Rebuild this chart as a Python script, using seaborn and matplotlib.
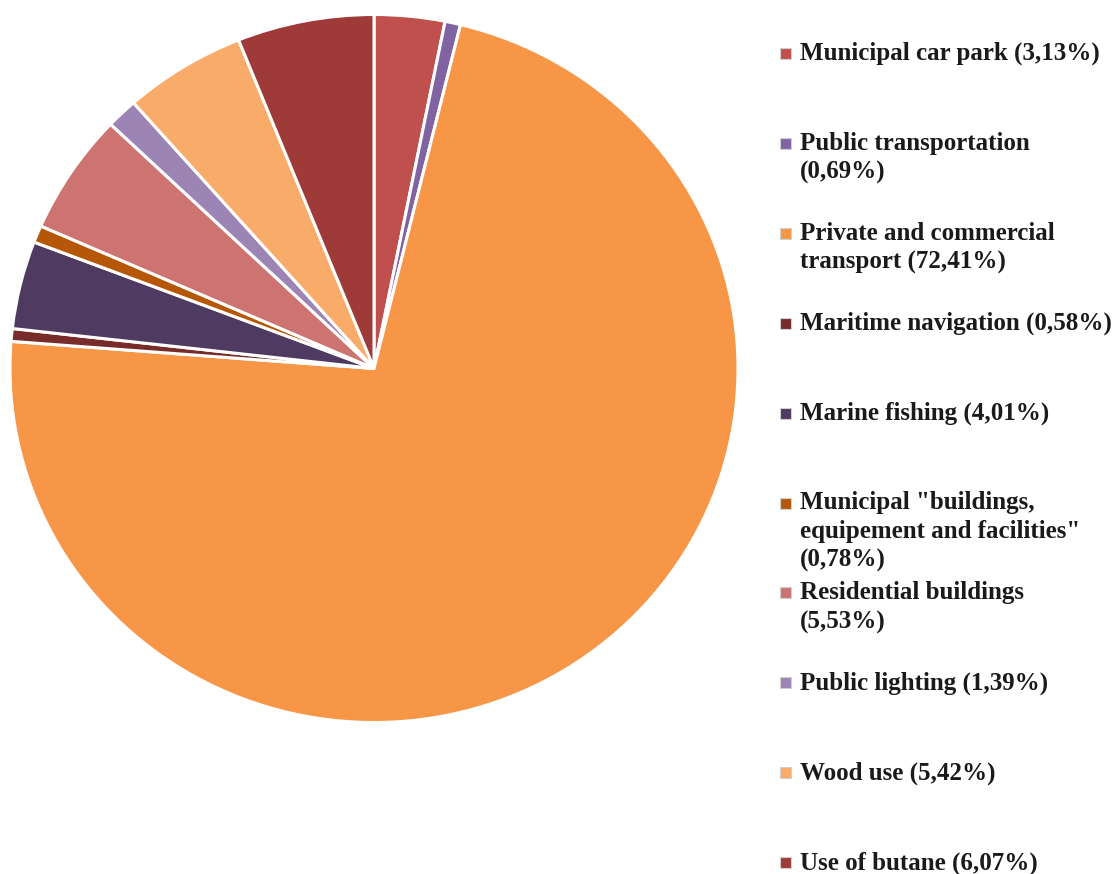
import matplotlib
matplotlib.use("Agg")
import matplotlib.pyplot as plt
import seaborn as sns
from matplotlib.patches import Rectangle

categories = ["Municipal car park", "Public transportation", "Private and commercial transport",
              "Maritime navigation", "Marine fishing",
              "Municipal \"buildings, equipement and facilities\"", "Residential buildings",
              "Public lighting", "Wood use", "Use of butane"]
values = [3.13, 0.69, 72.41, 0.58, 4.01, 0.78, 5.53, 1.39, 5.42, 6.07]
legend_labels = ["Municipal car park (3,13%)",
                 "Public transportation\n(0,69%)",
                 "Private and commercial\ntransport (72,41%)",
                 "Maritime navigation (0,58%)",
                 "Marine fishing (4,01%)",
                 "Municipal \"buildings,\nequipement and facilities\"\n(0,78%)",
                 "Residential buildings\n(5,53%)",
                 "Public lighting (1,39%)",
                 "Wood use (5,42%)",
                 "Use of butane (6,07%)"]
colors = ["#C0504D", "#8064A2", "#F79646", "#772C2A", "#4F3A62",
          "#B65708", "#CD7371", "#9C85B5", "#F9AB6A", "#9E3A38"]

sns.set_theme(style="white")
palette = sns.color_palette(colors)

W, H = 1120, 874
fig = plt.figure(figsize=(W / 100, H / 100), dpi=100)
fig.patch.set_facecolor("white")

cx, cy, rx, ry = 374, 368.5, 364, 354
ax = fig.add_axes([(cx - rx) / W, 1 - (cy + ry) / H, 2 * rx / W, 2 * ry / H])
ax.pie(values, colors=palette, startangle=90, counterclock=False, radius=1,
       wedgeprops=dict(edgecolor="white", linewidth=2.2))
ax.set_aspect("auto")
ax.set_xlim(-1.0, 1.0)
ax.set_ylim(-1.0, 1.0)
ax.axis("off")

# Legend (manual layout)
font = dict(family=["Liberation Serif", "DejaVu Serif"], weight="bold", size=18)
y0, dy, lh = 53, 89.9, 28.7
for i, (lab, col) in enumerate(zip(legend_labels, palette)):
    ym = y0 + dy * i
    fig.add_artist(Rectangle((780 / W, 1 - (ym + 6) / H), 11 / W, 11 / H,
                             transform=fig.transFigure, facecolor=col,
                             edgecolor="#D0D0D0", linewidth=0.8))
    for k, line in enumerate(lab.split("\n")):
        fig.text(800 / W, 1 - (ym + 7 + k * lh) / H, line, ha="left", va="baseline",
                 color="#1a1a1a", **font)

fig.savefig("out.png", dpi=100, facecolor="white")
